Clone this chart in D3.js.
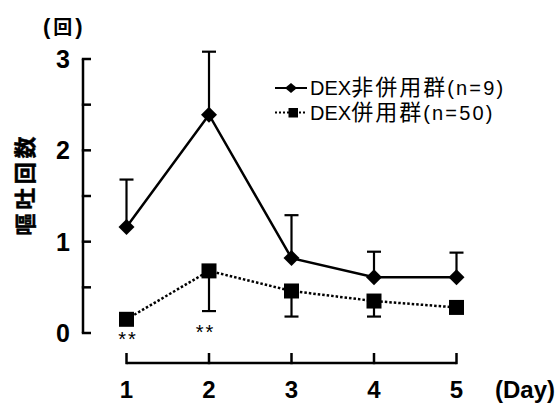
<!DOCTYPE html>
<html><head><meta charset="utf-8">
<script src="https://cdn.jsdelivr.net/npm/d3@7"></script>
<style>
body{margin:0;background:#fff;}
svg{display:block;}
text{font-family:"Liberation Sans",Arial,"Noto Sans CJK JP",sans-serif;fill:#000;}
.cjk{font-family:"Noto Sans CJK JP","Noto Sans CJK SC",sans-serif;}
</style></head><body>
<svg id="c" width="560" height="403"></svg>
<script>
const days = [1, 2, 3, 4, 5];
const seriesNames = ["DEX非併用群(n=9)", "DEX併用群(n=50)"];
const nonDexMean = [1.16, 2.39, 0.82, 0.61, 0.61];
const nonDexUpper = [1.68, 3.08, 1.29, 0.89, 0.88];
const dexMean = [0.15, 0.68, 0.46, 0.35, 0.28];
const dexLower = [null, 0.24, 0.18, 0.18, null];
const yTicks = [0, 1, 2, 3];
const yMinorTicks = [0.5, 1.5, 2.5];
const sigLabels = ["**", "**", "", "", ""];

const svg = d3.select("#c");
const x = d3.scaleLinear().domain([1, 5]).range([126.5, 456.5]);
const y = d3.scaleLinear().domain([0, 3]).range([333, 59]);

// Mixed-script legend text: Latin prefix, CJK run, Latin suffix
function mixedText(sel, str) {
  const runs = str.match(/[\u3000-\u9fff\uff00-\uffef]+|[^\u3000-\u9fff\uff00-\uffef]+/g);
  runs.forEach((r, k) => {
    const isCjk = /[\u3000-\u9fff]/.test(r);
    const t = sel.append("tspan").text(r);
    if (isCjk) t.attr("class", "cjk").style("font-size", "22px").attr("letter-spacing", 2);
    else if (k === 0) t.style("font-size", "20px");
    else t.style("font-size", "20px").attr("letter-spacing", 2.2);
  });
}

// Y axis
const yAxisX = 83;
svg.append("line").attr("x1", yAxisX).attr("x2", yAxisX).attr("y1", y(3)).attr("y2", y(0))
  .attr("stroke", "#000").attr("stroke-width", 2.5);
yTicks.concat(yMinorTicks).forEach(v => {
  svg.append("line").attr("x1", yAxisX - 1.2).attr("x2", yAxisX + 8).attr("y1", y(v)).attr("y2", y(v))
    .attr("stroke", "#000").attr("stroke-width", 2.5);
});
yTicks.forEach(v => {
  svg.append("text").attr("x", 70).attr("y", y(v) + 9).attr("text-anchor", "end")
    .style("font-size", "25px").attr("font-weight", "bold").text(v);
});

// X axis
const xAxisY = 363;
svg.append("line").attr("x1", x(1)).attr("x2", x(5)).attr("y1", xAxisY).attr("y2", xAxisY)
  .attr("stroke", "#000").attr("stroke-width", 2.5);
days.forEach(d => {
  svg.append("line").attr("x1", x(d)).attr("x2", x(d)).attr("y1", xAxisY + 1.2).attr("y2", xAxisY - 10)
    .attr("stroke", "#000").attr("stroke-width", 2.5);
  svg.append("text").attr("x", x(d)).attr("y", 398).attr("text-anchor", "middle")
    .style("font-size", "24px").attr("font-weight", "bold").text(d);
});
svg.append("text").attr("x", 495).attr("y", 398).style("font-size", "24px").attr("font-weight", "bold").text("(Day)");

// Unit label
const unit = svg.append("text").attr("x", 43).attr("y", 34).attr("font-weight", "bold");
unit.append("tspan").style("font-size", "22px").text("(");
unit.append("tspan").attr("class", "cjk").style("font-size", "19px").attr("dx", 3).text("回");
unit.append("tspan").style("font-size", "22px").attr("dx", 3).text(")");

// Y title (rotated)
svg.append("text").attr("class", "cjk")
  .attr("transform", "translate(33,186) rotate(-90)")
  .attr("text-anchor", "middle").style("font-size", "22px").attr("font-weight", "bold")
  .attr("stroke", "#000").attr("stroke-width", 0.5)
  .attr("textLength", 99).attr("lengthAdjust", "spacing")
  .text("嘔吐回数");

// Error bars
const capW = 7;
days.forEach((d, i) => {
  const cx = x(d);
  svg.append("line").attr("x1", cx).attr("x2", cx).attr("y1", y(nonDexMean[i])).attr("y2", y(nonDexUpper[i]))
    .attr("stroke", "#000").attr("stroke-width", 2.2);
  svg.append("line").attr("x1", cx - capW).attr("x2", cx + capW).attr("y1", y(nonDexUpper[i])).attr("y2", y(nonDexUpper[i]))
    .attr("stroke", "#000").attr("stroke-width", 2.2);
  if (dexLower[i] != null) {
    svg.append("line").attr("x1", cx).attr("x2", cx).attr("y1", y(dexMean[i])).attr("y2", y(dexLower[i]))
      .attr("stroke", "#000").attr("stroke-width", 2.2);
    svg.append("line").attr("x1", cx - capW).attr("x2", cx + capW).attr("y1", y(dexLower[i])).attr("y2", y(dexLower[i]))
      .attr("stroke", "#000").attr("stroke-width", 2.2);
  }
});

// Lines
const line = d3.line().x((v, i) => x(days[i])).y(v => y(v));
svg.append("path").attr("d", line(nonDexMean)).attr("fill", "none").attr("stroke", "#000").attr("stroke-width", 2.5);
svg.append("path").attr("d", line(dexMean)).attr("fill", "none").attr("stroke", "#000").attr("stroke-width", 2.5)
  .attr("stroke-dasharray", "2.5,2");

// Markers
const diamond = (cx, cy, rx, ry) => `M${cx},${cy - ry}L${cx + rx},${cy}L${cx},${cy + ry}L${cx - rx},${cy}Z`;
nonDexMean.forEach((v, i) => {
  svg.append("path").attr("d", diamond(x(days[i]), y(v), 8, 8)).attr("fill", "#000");
});
const sq = 15;
dexMean.forEach((v, i) => {
  svg.append("rect").attr("x", x(days[i]) - sq / 2).attr("y", y(v) - sq / 2).attr("width", sq).attr("height", sq).attr("fill", "#000");
});

// Significance
sigLabels.forEach((s, i) => {
  if (!s) return;
  svg.append("text").attr("x", x(days[i]) + (i === 0 ? 1.5 : -3.5)).attr("y", i === 0 ? 346 : 339)
    .attr("text-anchor", "middle").style("font-size", "20px").attr("letter-spacing", 2).text(s);
});

// Legend
const lg = svg.append("g");
lg.append("line").attr("x1", 275).attr("x2", 307).attr("y1", 88).attr("y2", 88).attr("stroke", "#000").attr("stroke-width", 2);
lg.append("path").attr("d", diamond(291, 88, 6, 5)).attr("fill", "#000");
mixedText(lg.append("text").attr("x", 310).attr("y", 95), seriesNames[0]);
lg.append("line").attr("x1", 275).attr("x2", 307).attr("y1", 112.5).attr("y2", 112.5).attr("stroke", "#000").attr("stroke-width", 2)
  .attr("stroke-dasharray", "2,2");
lg.append("rect").attr("x", 288.5).attr("y", 108).attr("width", 9.5).attr("height", 9.5).attr("fill", "#000");
mixedText(lg.append("text").attr("x", 310).attr("y", 120), seriesNames[1]);
</script>
</body></html>
